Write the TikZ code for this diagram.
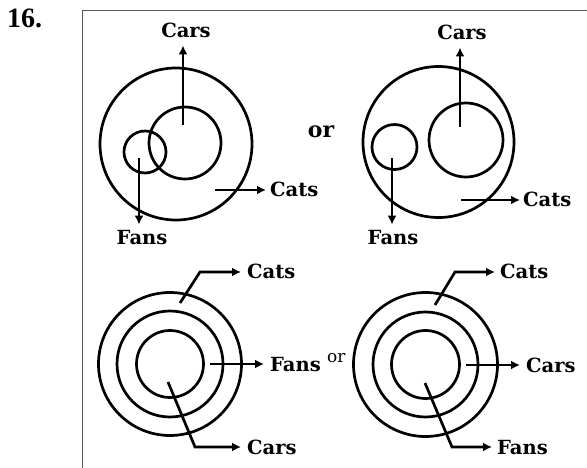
\documentclass[tikz,border=0pt]{standalone}
\usepackage{fontspec}
\setmainfont{DejaVu Serif}
\newfontfamily\numfont{Liberation Serif}
\usetikzlibrary{arrows.meta}
\begin{document}
\begin{tikzpicture}[x=1pt,y=-1pt,
  ring/.style={line width=2.7pt},
  arr/.style={line width=2.7pt,-{Latex[length=9pt,width=9pt]}},
  lab/.style={inner sep=0pt,font=\fontsize{19.5}{22}\selectfont\bfseries},
  frame/.style={draw=black!65,line width=1pt}
  ]
\useasboundingbox (0,0) rectangle (587,468);
% frame
\coordinate (frTR) at (587,11);
\coordinate (frTL) at (82,11);
\coordinate (frBL) at (82,468);
\draw[frame] (frTR) -- (frTL) -- (frBL);
\node[font=\numfont\bfseries\fontsize{28}{30}\selectfont, anchor=base west, inner sep=0pt] (num) at (7,28) {16.};

% ---------- top left ----------
\draw[ring] (176,144) circle[radius=76pt];
\draw[ring] (185,143) circle[radius=36pt];
\draw[ring] (145,152) circle[radius=21pt];
\node[lab, anchor=base] (tlCars) at (186,38) {Cars};
\node[lab, anchor=base] (tlFans) at (142,244) {Fans};
\node[lab, anchor=base west] (tlCats) at (270,197) {Cats};
\coordinate (tlCarsS) at (183,125);
\coordinate (tlFansS) at (139,158);
\coordinate (tlCatsS) at (215,190);
\draw[arr, shorten >=7pt] (tlCarsS) -- (tlCarsS |- tlCars.south);
\draw[arr, shorten >=5pt] (tlFansS) -- (tlFansS |- tlFans.north);
\draw[arr, shorten >=4pt] (tlCatsS) -- (tlCatsS -| tlCats.west);

\node[lab, font=\fontsize{22}{24}\selectfont\bfseries, anchor=base] (or1) at (321,138) {or};

% ---------- top right ----------
\draw[ring] (438.5,142) circle[radius=75.5pt];
\draw[ring] (466,140) circle[radius=37pt];
\draw[ring] (394.5,147) circle[radius=22.5pt];
\node[lab, anchor=base] (trCars) at (462,40) {Cars};
\node[lab, anchor=base] (trFans) at (393,244) {Fans};
\node[lab, anchor=base west] (trCats) at (523,207) {Cats};
\coordinate (trCarsS) at (460,127);
\coordinate (trFansS) at (392,158);
\coordinate (trCatsS) at (461,200);
\draw[arr, shorten >=7pt] (trCarsS) -- (trCarsS |- trCars.south);
\draw[arr, shorten >=5pt] (trFansS) -- (trFansS |- trFans.north);
\draw[arr, shorten >=3pt] (trCatsS) -- (trCatsS -| trCats.west);

% ---------- bottom left ----------
\draw[ring] (170,364) circle[radius=71.5pt];
\draw[ring] (170,364) circle[radius=53pt];
\draw[ring] (170,364) circle[radius=33.5pt];
\node[lab, anchor=base west] (blCats) at (247,279) {Cats};
\node[lab, anchor=base west] (blFans) at (270,371) {Fans};
\node[lab, anchor=base west] (blCars) at (247,454) {Cars};
\coordinate (blCatsS) at (180,303);
\coordinate (blCatsK) at (200,272);
\coordinate (blFansS) at (210,364);
\coordinate (blCarsS) at (168,382);
\coordinate (blCarsK) at (195,447);
\draw[arr, shorten >=6pt] (blCatsS) -- (blCatsK) -- (blCatsK -| blCats.west);
\draw[arr, shorten >=6pt] (blFansS) -- (blFansS -| blFans.west);
\draw[arr, shorten >=6pt] (blCarsS) -- (blCarsK) -- (blCarsK -| blCars.west);

\node[inner sep=0pt, font=\fontsize{17}{19}\selectfont, anchor=base west] (or2) at (327,362) {or};

% ---------- bottom right ----------
\draw[ring] (425.5,364.5) circle[radius=72pt];
\draw[ring] (425.5,364.5) circle[radius=52.5pt];
\draw[ring] (425.5,364.5) circle[radius=34pt];
\node[lab, anchor=base west] (brCats) at (500,279) {Cats};
\node[lab, anchor=base west] (brCars) at (526,372) {Cars};
\node[lab, anchor=base west] (brFans) at (497,454) {Fans};
\coordinate (brCatsS) at (435,305);
\coordinate (brCatsK) at (455,272);
\coordinate (brCarsS) at (466,365);
\coordinate (brFansS) at (425,383);
\coordinate (brFansK) at (452,447);
\draw[arr, shorten >=5pt] (brCatsS) -- (brCatsK) -- (brCatsK -| brCats.west);
\draw[arr, shorten >=6pt] (brCarsS) -- (brCarsS -| brCars.west);
\draw[arr, shorten >=5pt] (brFansS) -- (brFansK) -- (brFansK -| brFans.west);
\end{tikzpicture}
\end{document}
